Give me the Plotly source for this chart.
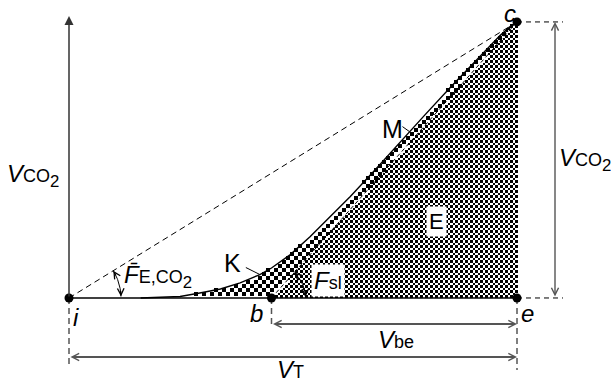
import numpy as np
import plotly.graph_objects as go

# Cumulative expired CO2 volume (mL) against expired volume (mL)
volume_ml = [80, 102, 124, 146, 169, 191, 202, 213, 226, 247, 269, 291, 314, 342,
             369, 397, 425, 453, 481, 492, 500]
vco2_ml = [0, 0.03, 0.11, 0.36, 0.65, 1.09, 1.38, 1.70, 2.17, 3.14, 4.44, 5.86,
           7.35, 9.31, 11.28, 13.25, 15.22, 17.15, 19.01, 19.64, 20.0]

# Landmarks: i start of expiration, b start of phase III, e end of expiration, c total CO2
vi_ml = 0
vb_ml = 226
vt_ml = 500
vco2_total = 20.0
point_x = [vi_ml, vb_ml, vt_ml, vt_ml]
point_y = [0, 0, 0, vco2_total]

W, H = 611, 383
x_range = [-77.01, 604.91]
y_range = [-6.16, 21.59]
kx = W / (x_range[1] - x_range[0])
ky = H / (y_range[1] - y_range[0])


def to_data(px, py):
    return x_range[0] + np.asarray(px) / kx, y_range[1] - np.asarray(py) / ky


def to_px(x, y):
    return (np.asarray(x) - x_range[0]) * kx, (y_range[1] - np.asarray(y)) * ky


vol = np.array(volume_ml, dtype=float)
co2 = np.array(vco2_ml, dtype=float)


def curve_at(x):
    return np.interp(x, vol, co2, left=0.0)


def slope_line(x):
    return vco2_total * (np.asarray(x) - vb_ml) / (vt_ml - vb_ml)


def checker(step, inside, box):
    px0, px1, py0, py1 = box
    cols = np.arange(px0, px1, step) + step / 2
    rows = np.arange(py1, py0, -step) - step / 2
    PX, PY = np.meshgrid(cols, rows)
    X, Y = to_data(PX, PY)
    parity = (np.round((PX - px0 - step / 2) / step) + np.round((py1 - step / 2 - PY) / step)) % 2
    z = np.where(inside(X, Y), parity, np.nan)
    zl = [[None if np.isnan(v) else float(v) for v in row] for row in z]
    xs = to_data(cols, 0)[0]
    ys = to_data(0, rows)[1]
    return go.Heatmap(x=xs.tolist(), y=ys.tolist(), z=zl,
                      colorscale=[[0, "white"], [1, "black"]], zmin=0, zmax=1,
                      showscale=False, hoverinfo="skip", zsmooth=False)


def inside_fine(X, Y):
    return (X >= vb_ml) & (X <= vt_ml) & (Y >= 0) & (Y <= slope_line(X))


def inside_coarse(X, Y):
    return ((X >= vol[0]) & (X <= vt_ml) & (Y >= 0) & (Y <= curve_at(X))
            & ((X < vb_ml) | (Y > slope_line(X))))


fig = go.Figure()
fig.add_trace(checker(4, inside_coarse, (130, 522, 12, 300)))
fig.add_trace(checker(2.5, inside_fine, (260, 520, 13, 300)))

black = "black"
grey = "#555555"


def line(x, y, color=black, width=1.0, dash=None):
    fig.add_trace(go.Scatter(x=list(x), y=list(y), mode="lines",
                             line=dict(color=color, width=width, dash=dash),
                             hoverinfo="skip", showlegend=False))


# baseline and reference lines
line([vi_ml, vt_ml], [0, 0], width=1.5)
line([vi_ml, vt_ml], [0, vco2_total], width=1.0, dash="6px,4px")
line([vb_ml, vt_ml], [0, vco2_total], width=1.0, dash="4px,3px")
line(vol, co2, width=1.4)

# extension lines towards the right-hand dimension
ext_x = to_data(563, 0)[0]
line([vt_ml, ext_x], [vco2_total, vco2_total], dash="5px,4px")
line([vt_ml, ext_x], [0, 0], dash="5px,4px")

# vertical extension lines below the points
for xv, pyb in [(vi_ml, 368), (vb_ml, 327), (vt_ml, 370)]:
    line([xv, xv], [0, to_data(0, pyb)[1]], color=grey, width=1.5, dash="6px,4px")


# angle arcs
def arc(xc, yc, x_end, y_end, r):
    cx, cy = to_px(xc, yc)
    ex, ey = to_px(x_end, y_end)
    a_top = np.arctan2(cy - ey, ex - cx)
    a_bot = 0.03
    t = np.linspace(a_top, a_bot, 40)
    X, Y = to_data(cx + r * np.cos(t), cy - r * np.sin(t))
    line(X, Y, width=1.0)
    heads = []
    tb = a_bot
    bx, by = to_data(cx + r * np.cos(tb), cy - r * np.sin(tb))
    heads.append((float(bx), float(by), -7 * np.sin(tb), -7 * np.cos(tb)))
    tt = a_top
    tx, ty = to_data(cx + r * np.cos(tt), cy - r * np.sin(tt))
    heads.append((float(tx), float(ty), 7 * np.sin(tt), 7 * np.cos(tt)))
    return heads


arc_heads = arc(vi_ml, 0, vt_ml, vco2_total, 52) + arc(vb_ml, 0, vt_ml, vco2_total, 34)

# leader lines for K and M
for xv, dpx, dpy in [(213, -14, -7), (380, -7, -5)]:
    yv = curve_at(xv)
    cx, cy = to_px(xv, yv)
    lx, ly = to_data(cx + dpx, cy + dpy)
    line([float(lx), xv], [float(ly), float(yv)], width=1.0)

# landmark points
fig.add_trace(go.Scatter(x=point_x, y=point_y, mode="markers",
                         marker=dict(color=black, size=9), hoverinfo="skip",
                         showlegend=False))

annotations = []

# vertical axis arrow
annotations.append(dict(x=vi_ml, y=float(to_data(0, 16)[1]), ax=vi_ml, ay=0,
                        xref="x", yref="y", axref="x", ayref="y", text="",
                        showarrow=True, arrowhead=2, arrowsize=1.2, arrowwidth=1.5,
                        arrowcolor="#333333"))

# dimension arrows
dim_x = float(to_data(555, 0)[0])
y_vbe = float(to_data(0, 324)[1])
y_vt = float(to_data(0, 357)[1])
for (x0, y0, x1, y1, w) in [(dim_x, 0, dim_x, vco2_total, 1.4),
                             (vb_ml, y_vbe, vt_ml, y_vbe, 2.0),
                             (vi_ml, y_vt, vt_ml, y_vt, 2.0)]:
    annotations.append(dict(x=x1, y=y1, ax=x0, ay=y0, xref="x", yref="y",
                            axref="x", ayref="y", text="", showarrow=True,
                            arrowside="end+start", arrowhead=5, startarrowhead=5,
                            arrowsize=1.4 / w, startarrowsize=1.4 / w,
                            arrowwidth=w, arrowcolor=grey))

for (hx, hy, ax, ay) in arc_heads:
    annotations.append(dict(x=hx, y=hy, ax=ax, ay=ay, xref="x", yref="y", text="",
                            showarrow=True, arrowhead=5, arrowsize=1.3,
                            arrowwidth=1.0, arrowcolor=black))

font = dict(family="Liberation Sans, Arial, sans-serif", size=24, color=black)
small = '<span style="font-size:18px">%s</span>'
labels = [
    (-40.2, 8.84, "<i>V</i>" + small % "CO" + "<sub>2</sub>", None, 24),
    (576.0, 10.0, "<i>V</i>" + small % "CO" + "<sub>2</sub>", None, 24),
    (492.2, 20.6, "<i>c</i>", None, 24),
    (360.5, 12.25, "M", None, 25),
    (410.7, 5.51, "E", "white", 22),
    (183.0, 2.54, "K", None, 25),
    (289.1, 1.30, "<i>F</i>" + small % "sl", "white", 24),
    (99.0, 1.59, "<i>F\u0304</i>" + small % "E,CO" + "<sub>2</sub>", None, 24),
    (7.8, -1.45, "<i>i</i>", None, 24),
    (209.8, -1.09, "<i>b</i>", None, 24),
    (511.2, -1.09, "<i>e</i>", None, 24),
    (365.0, -3.04, "<i>V</i>" + small % "be", None, 24),
    (246.7, -5.15, "<i>V</i>" + small % "T", None, 24),
]
for (lx, ly, txt, bg, fs) in labels:
    a = dict(x=lx, y=ly, xref="x", yref="y", text=txt, showarrow=False,
             font=dict(font, size=fs), xanchor="center", yanchor="middle")
    if bg:
        a.update(bgcolor=bg, borderpad=2)
    annotations.append(a)

fig.update_layout(
    width=W, height=H, margin=dict(l=0, r=0, t=0, b=0),
    paper_bgcolor="white", plot_bgcolor="white", showlegend=False,
    xaxis=dict(range=x_range, visible=False, fixedrange=True),
    yaxis=dict(range=y_range, visible=False, fixedrange=True),
    annotations=annotations,
)

fig.write_html("out.html")
